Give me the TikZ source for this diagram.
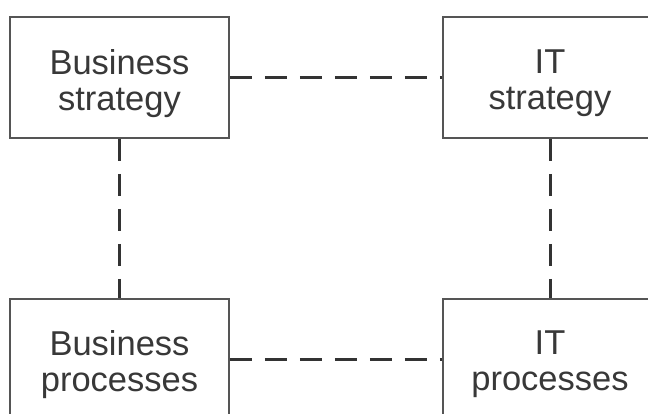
\documentclass[tikz,border=0pt]{standalone}
\usepackage{fontspec}
\setmainfont{Liberation Sans}
\definecolor{boxgray}{HTML}{555555}
\definecolor{linkgray}{HTML}{333333}
\definecolor{txtgray}{HTML}{383838}
\begin{document}
\begin{tikzpicture}[x=1pt,y=1pt,
  box/.style={draw=boxgray, fill=white, line width=1.8pt, minimum width=219pt,
    minimum height=121pt, inner sep=0pt},
  lbl/.style={inner sep=0pt, align=center,
    font=\fontsize{34.5}{36}\selectfont, text=txtgray},
  link/.style={draw=linkgray, line width=3pt, dash pattern=on 22pt off 13pt}]
\useasboundingbox (0,0) rectangle (648,414);
\clip (0,0) rectangle (648,414);
% four boxes
\node[box] (bs) at (119.5,336.5) {};
\node[box, minimum width=214pt] (its) at (550,336.5) {};
\node[box] (bp) at (119.5,54.5) {};
\node[box, minimum width=214pt] (itp) at (550,54.5) {};
% their captions
\node[lbl] (bst) at ([yshift=-6pt]bs.center) {Business\\strategy};
\node[lbl] (itst) at ([yshift=-6pt]its.center) {IT\\strategy};
\node[lbl] (bpt) at ([yshift=-5pt]bp.center) {Business\\processes};
\node[lbl] (itpt) at ([yshift=-5pt]itp.center) {IT\\processes};
% dashed links between them
\draw[link] (bs.east) -- (its.west);
\draw[link] (bp.east) -- (itp.west);
\draw[link] (bs.south) -- (bp.north);
\draw[link] (its.south) -- (itp.north);
\end{tikzpicture}
\end{document}
